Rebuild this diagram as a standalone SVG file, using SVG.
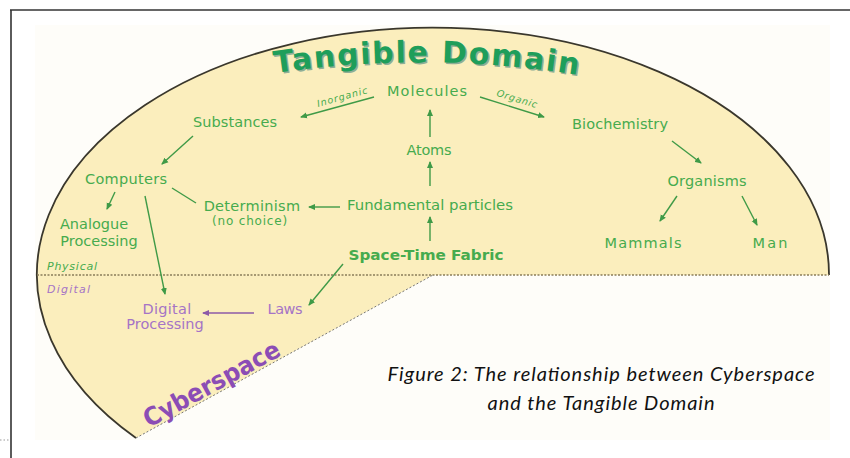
<svg xmlns="http://www.w3.org/2000/svg" width="850" height="458" viewBox="0 0 850 458">
<style>
.g{font-family:"DejaVu Sans",Verdana,sans-serif;font-size:14.5px;fill:#46ab4e;text-anchor:middle}
.p{font-family:"DejaVu Sans",Verdana,sans-serif;font-size:14.5px;fill:#a574c6;text-anchor:middle}
.sm{font-family:"DejaVu Sans",Verdana,sans-serif;font-size:9.5px;fill:#46ab4e;font-style:italic;text-anchor:middle}
.cap{font-family:Lato,"Open Sans","Liberation Sans",sans-serif;font-size:20px;font-style:italic;fill:#111;text-anchor:middle}
.ln{stroke:#3f9a47;stroke-width:1.4;fill:none}
.lp{stroke:#8d5aa8;stroke-width:1.4;fill:none}
</style>
<defs>
<marker id="ag" markerWidth="7" markerHeight="7" refX="6" refY="3.5" orient="auto" markerUnits="userSpaceOnUse"><path d="M0,0.5 L7,3.5 L0,6.5 Z" fill="#3f9a47"/></marker>
<marker id="ap" markerWidth="7" markerHeight="7" refX="6" refY="3.5" orient="auto" markerUnits="userSpaceOnUse"><path d="M0,0.5 L7,3.5 L0,6.5 Z" fill="#8d5aa8"/></marker>
<path id="tp" d="M275,73 Q432,50 590,77"/>
<path id="cp" d="M149,428 L293,349"/>
<path id="inp" d="M314,108 L372,92"/>
<path id="orp" d="M490,94 L542,110"/>
</defs>
<g id="frame">
<line x1="10" y1="10" x2="850" y2="10" stroke="#333" stroke-width="1.6"/>
<line x1="11" y1="10" x2="11" y2="458" stroke="#333" stroke-width="1.6"/>
<line x1="0" y1="440" x2="10" y2="440" stroke="#999" stroke-width="1" stroke-dasharray="1.5,2"/>
<rect x="35" y="25" width="795" height="415" fill="#fefdf9"/>
</g>
<g id="domain">
<path d="M433,275 L136,438 A396,247 0 1 1 829,275 Z" fill="#fbeebd"/>
<path d="M136,438 A396,247 0 1 1 829,275" fill="none" stroke="#3a372c" stroke-width="1.8"/>
<line x1="136" y1="438" x2="433" y2="275" stroke="#777" stroke-width="1" stroke-dasharray="2,2"/>
<line x1="37" y1="275" x2="829" y2="275" stroke="#8a7d5a" stroke-width="1.4" stroke-dasharray="2,1.5"/>
</g>
<g id="title">
<text font-family="'DejaVu Sans',Verdana,sans-serif" font-weight="bold" font-size="30" fill="#8fae95" transform="translate(1.5,1.5)"><textPath href="#tp" textLength="304" lengthAdjust="spacing">Tangible Domain</textPath></text>
<text font-family="'DejaVu Sans',Verdana,sans-serif" font-weight="bold" font-size="30" fill="#1f9e5a"><textPath href="#tp" textLength="304" lengthAdjust="spacing">Tangible Domain</textPath></text>
</g>
<g id="cyberspace">
<text font-family="'DejaVu Sans',Verdana,sans-serif" font-weight="bold" font-size="25" fill="#8b4db5"><textPath href="#cp" textLength="152" lengthAdjust="spacingAndGlyphs">Cyberspace</textPath></text>
</g>
<g id="connectors">
<line class="ln" x1="374" y1="97" x2="301" y2="117" marker-end="url(#ag)"/>
<line class="ln" x1="480" y1="97" x2="544" y2="117" marker-end="url(#ag)"/>
<line class="ln" x1="430" y1="137" x2="430" y2="110" marker-end="url(#ag)"/>
<line class="ln" x1="430" y1="186" x2="430" y2="162" marker-end="url(#ag)"/>
<line class="ln" x1="430" y1="241" x2="430" y2="217" marker-end="url(#ag)"/>
<line class="ln" x1="193" y1="136" x2="162" y2="164" marker-end="url(#ag)"/>
<line class="ln" x1="672" y1="141" x2="701" y2="163" marker-end="url(#ag)"/>
<line class="ln" x1="677" y1="196" x2="660" y2="221" marker-end="url(#ag)"/>
<line class="ln" x1="742" y1="196" x2="757" y2="225" marker-end="url(#ag)"/>
<line class="ln" x1="340" y1="207" x2="309" y2="207" marker-end="url(#ag)"/>
<line class="ln" x1="172" y1="188" x2="196" y2="203"/>
<line class="ln" x1="115" y1="192" x2="107" y2="209" marker-end="url(#ag)"/>
<line class="ln" x1="145" y1="196" x2="165" y2="294" marker-end="url(#ag)"/>
<line class="ln" x1="343" y1="264" x2="309" y2="305" marker-end="url(#ag)"/>
<line class="lp" x1="254" y1="313" x2="203" y2="313" marker-end="url(#ap)"/>
</g>
<g id="edge-labels">
<text class="sm"><textPath href="#inp" startOffset="50%" textLength="52" lengthAdjust="spacing">Inorganic</textPath></text>
<text class="sm"><textPath href="#orp" startOffset="50%" textLength="42" lengthAdjust="spacing">Organic</textPath></text>
</g>
<g id="n-molecules"><text class="g" x="427" y="96" textLength="80" lengthAdjust="spacing">Molecules</text></g>
<g id="n-substances"><text class="g" x="235" y="127" textLength="84" lengthAdjust="spacing">Substances</text></g>
<g id="n-biochemistry"><text class="g" x="620" y="129" textLength="96" lengthAdjust="spacing">Biochemistry</text></g>
<g id="n-atoms"><text class="g" x="429" y="155" textLength="45" lengthAdjust="spacing">Atoms</text></g>
<g id="n-computers"><text class="g" x="126" y="184" textLength="82" lengthAdjust="spacing">Computers</text></g>
<g id="n-organisms"><text class="g" x="707" y="186" textLength="79" lengthAdjust="spacing">Organisms</text></g>
<g id="n-determinism"><text class="g"><tspan x="252" y="211" letter-spacing="0.3">Determinism</tspan><tspan x="250" y="225" font-size="12" letter-spacing="0.8">(no choice)</tspan></text></g>
<g id="n-fundamental"><text class="g" x="430" y="210" textLength="166" lengthAdjust="spacingAndGlyphs">Fundamental particles</text></g>
<g id="n-analogue"><text class="g"><tspan x="94" y="229">Analogue</tspan><tspan x="99" y="246">Processing</tspan></text></g>
<g id="n-mammals"><text class="g" x="643" y="248" textLength="77" lengthAdjust="spacing">Mammals</text></g>
<g id="n-man"><text class="g" x="770" y="248" textLength="35" lengthAdjust="spacing">Man</text></g>
<g id="n-spacetime"><text class="g" x="426" y="260" font-size="15" font-weight="bold" textLength="155" lengthAdjust="spacingAndGlyphs">Space-Time Fabric</text></g>
<g id="n-digital"><text class="p"><tspan x="167" y="314" letter-spacing="0.3">Digital</tspan><tspan x="165" y="329">Processing</tspan></text></g>
<g id="n-laws"><text class="p" x="285" y="314" textLength="35" lengthAdjust="spacing">Laws</text></g>
<g id="zone-labels">
<text x="47" y="270" font-family="'DejaVu Sans',Verdana,sans-serif" font-size="11" font-style="italic" fill="#46ab4e" textLength="50" lengthAdjust="spacing">Physical</text>
<text x="47" y="293" font-family="'DejaVu Sans',Verdana,sans-serif" font-size="11" font-style="italic" fill="#a574c6" textLength="43" lengthAdjust="spacing">Digital</text>
</g>
<g id="caption">
<text class="cap" x="601" y="381" textLength="427" lengthAdjust="spacing">Figure 2: The relationship between Cyberspace</text>
<text class="cap" x="601" y="410" textLength="227" lengthAdjust="spacing">and the Tangible Domain</text>
</g>
</svg>
